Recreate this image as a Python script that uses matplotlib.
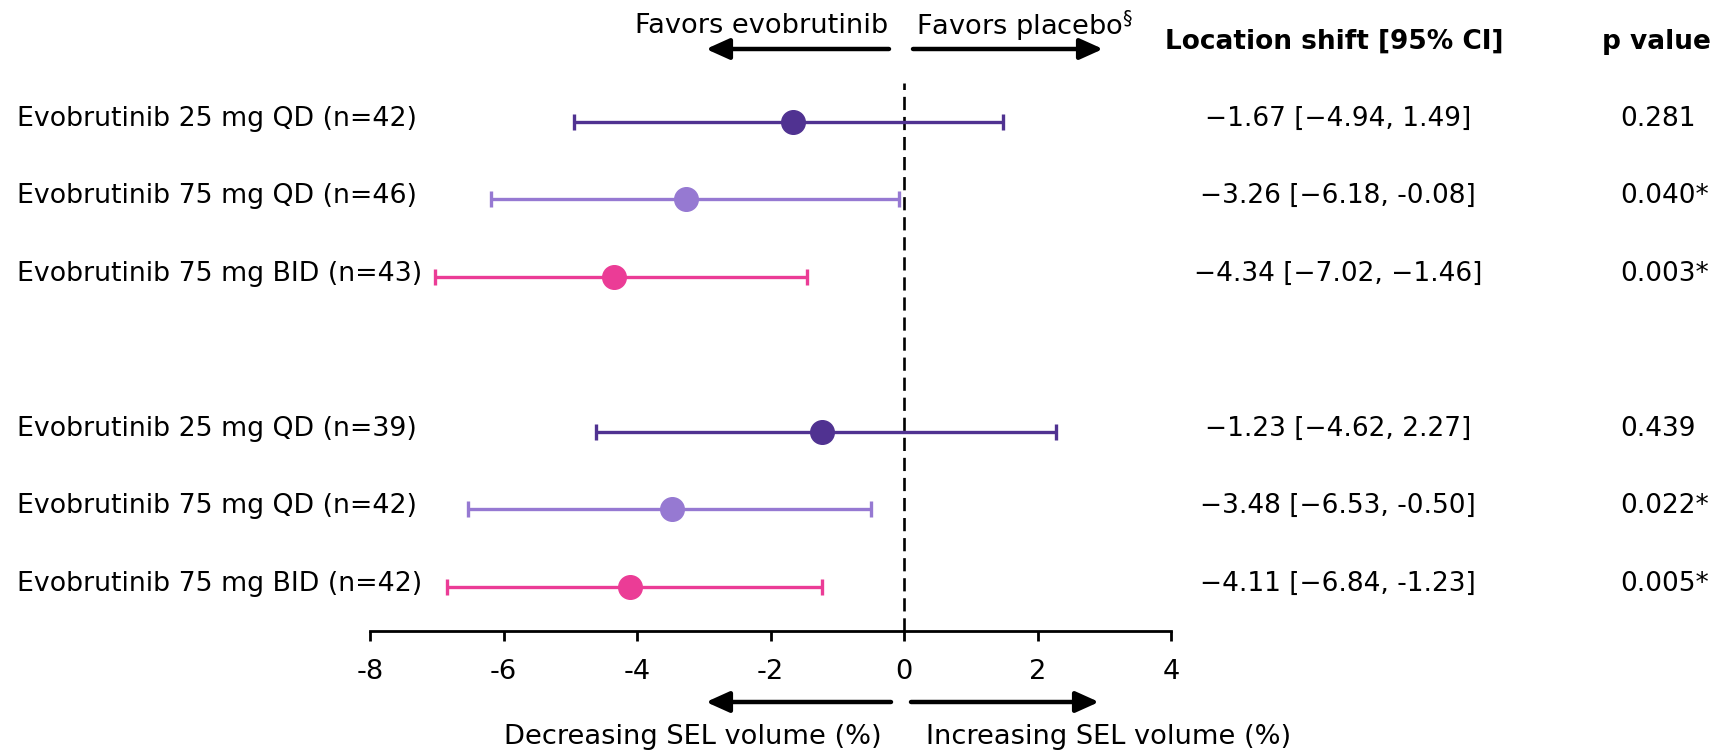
import matplotlib
matplotlib.use("Agg")
import matplotlib.pyplot as plt
import matplotlib.transforms as mtransforms
from matplotlib.patches import FancyArrowPatch

# ---- data ----
labels = ["Evobrutinib 25 mg QD (n=42)", "Evobrutinib 75 mg QD (n=46)",
          "Evobrutinib 75 mg BID (n=43)", "Evobrutinib 25 mg QD (n=39)",
          "Evobrutinib 75 mg QD (n=42)", "Evobrutinib 75 mg BID (n=42)"]
rows = [0, 1, 2, 4, 5, 6]
estimates = [-1.67, -3.26, -4.34, -1.23, -3.48, -4.11]
ci_low = [-4.94, -6.18, -7.02, -4.62, -6.53, -6.84]
ci_high = [1.49, -0.08, -1.46, 2.27, -0.50, -1.23]
ci_text = ["\u22121.67 [\u22124.94, 1.49]", "\u22123.26 [\u22126.18, -0.08]",
           "\u22124.34 [\u22127.02, \u22121.46]", "\u22121.23 [\u22124.62, 2.27]",
           "\u22123.48 [\u22126.53, -0.50]", "\u22124.11 [\u22126.84, -1.23]"]
p_values = ["0.281", "0.040*", "0.003*", "0.439", "0.022*", "0.005*"]
colors = ["#503291", "#9679d2", "#eb3c96", "#503291", "#9679d2", "#eb3c96"]
xticks = [-8, -6, -4, -2, 0, 2, 4]
xticklabels = ["-8", "-6", "-4", "-2", "0", "2", "4"]

plt.rcParams['font.family'] = ['DejaVu Sans']
FS = 19.6
FS_LAB = 19.3
FS_TAB = 19

W, H = 1729, 754
fig = plt.figure(figsize=(W / 100, H / 100), dpi=100)
ax = fig.add_axes([370 / W, 1 - 631 / H, (1171 - 370) / W, (631 - 83) / H])

for r, e, lo, hi, c in zip(rows, estimates, ci_low, ci_high, colors):
    ax.errorbar(e, r, xerr=[[e - lo], [hi - e]], fmt='o', color=c, ecolor=c,
                elinewidth=2.4, capsize=6, capthick=2.4, markersize=17,
                markeredgecolor=c, zorder=3)

ax.axvline(0, color='black', lw=1.9, ls=(0, (5, 2.6)), zorder=2)

ax.set_xlim(-8, 4)
ax.set_ylim(6.57, -0.5)
for s in ['top', 'right', 'left']:
    ax.spines[s].set_visible(False)
ax.spines['bottom'].set_linewidth(2)
ax.set_yticks([])
ax.set_xticks(xticks)
ax.set_xticklabels(xticklabels, fontsize=FS)
ax.tick_params(axis='x', direction='out', length=7, width=2, pad=13)
ax.patch.set_alpha(0)

# left labels and table
trans = mtransforms.blended_transform_factory(fig.transFigure, ax.transData)
up = mtransforms.ScaledTranslation(0, 3 / 100, fig.dpi_scale_trans)
for r, lab, ct, pv in zip(rows, labels, ci_text, p_values):
    ax.text(17 / W, r, lab, transform=trans + up, ha='left', va='center', fontsize=FS_LAB)
    ax.text(1338 / W, r, ct, transform=trans + up, ha='center', va='center', fontsize=FS_TAB)
    ax.text(1620 / W, r, pv, transform=trans + up, ha='left', va='center', fontsize=FS_TAB)

# headers
fig.text(1334 / W, 1 - 42 / H, "Location shift [95% CI]", ha='center', va='center',
         fontsize=FS_TAB, fontweight='bold')
fig.text(1656 / W, 1 - 42 / H, "p value", ha='center', va='center',
         fontsize=FS_TAB, fontweight='bold')

# top direction labels and arrows
fig.text(888 / W, 1 - 26 / H, "Favors evobrutinib", ha='right', va='center', fontsize=FS)
fig.text(916 / W, 1 - 26 / H, "Favors placebo$^{\u00a7}$", ha='left', va='center', fontsize=FS)
arrow_kw = dict(arrowstyle='-|>,head_length=1.0,head_width=0.45', lw=3.2, color='black',
                shrinkA=0, shrinkB=0, mutation_scale=14)
fig.add_artist(FancyArrowPatch((889 / W, 1 - 49 / H), (706 / W, 1 - 49 / H),
               transform=fig.transFigure, **arrow_kw))
fig.add_artist(FancyArrowPatch((913 / W, 1 - 49 / H), (1103 / W, 1 - 49 / H),
               transform=fig.transFigure, **arrow_kw))

# bottom direction labels and arrows
fig.add_artist(FancyArrowPatch((891 / W, 1 - 702 / H), (706 / W, 1 - 702 / H),
               transform=fig.transFigure, **arrow_kw))
fig.add_artist(FancyArrowPatch((911 / W, 1 - 702 / H), (1099 / W, 1 - 702 / H),
               transform=fig.transFigure, **arrow_kw))
fig.text(882 / W, 1 - 737 / H, "Decreasing SEL volume (%)", ha='right', va='center', fontsize=FS)
fig.text(926 / W, 1 - 737 / H, "Increasing SEL volume (%)", ha='left', va='center', fontsize=FS)

fig.savefig("out.png", dpi=100, facecolor='white')
